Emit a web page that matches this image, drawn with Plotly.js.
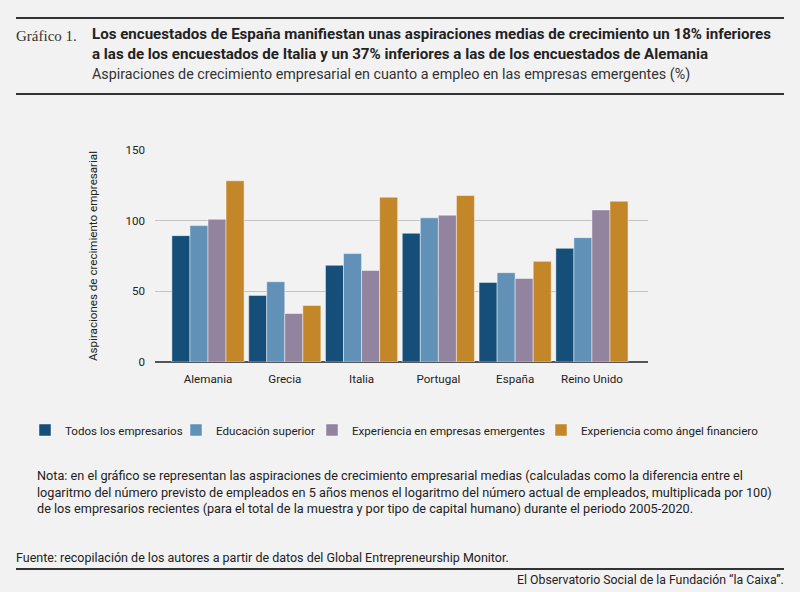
<!DOCTYPE html>
<html>
<head>
<meta charset="utf-8">
<script src="https://cdn.plot.ly/plotly-3.0.1.min.js"></script>
<style>
  body { margin: 0; background: #f2f2f2; }
  #chart { width: 800px; height: 592px; }
</style>
</head>
<body>
<div id="chart"></div>
<script>
var paises = ['Alemania', 'Grecia', 'Italia', 'Portugal', 'España', 'Reino Unido'];
var todos = [89.4, 47.1, 68.4, 91.1, 56.3, 80.4];
var educacion = [96.5, 56.8, 76.7, 102, 63.2, 88];
var experiencia = [101, 34.3, 64.8, 103.9, 59.1, 107.6];
var angel = [128.2, 40, 116.6, 117.8, 71.2, 113.8];
var yTicks = [0, 50, 100, 150];

var W = 800, H = 592;
// paper coordinates from page pixels (margins are zero)
function px(x) { return x / W; }
function py(y) { return 1 - y / H; }

var fnt = 'Roboto, "Liberation Sans", sans-serif';
var edge = {color: 'rgba(255,255,255,0.45)', width: 1};

function serie(nombre, valores, color, ancho) {
  return {
    x: paises,
    y: valores,
    name: nombre,
    type: 'bar',
    legendwidth: ancho,
    marker: {color: color, line: edge},
    hoverinfo: 'y'
  };
}

var data = [
  serie('Todos los empresarios', todos, '#154e78', 106),
  serie('Educación superior', educacion, '#6191b6', 91),
  serie('Experiencia en empresas emergentes', experiencia, '#92839f', 184),
  serie('Experiencia como ángel financiero', angel, '#c38629', 180)
];

var nota = 'Nota: en el gráfico se representan las aspiraciones de crecimiento empresarial medias (calculadas como la diferencia entre el<br>' +
  'logaritmo del número previsto de empleados en 5 años menos el logaritmo del número actual de empleados, multiplicada por 100)<br>' +
  'de los empresarios recientes (para el total de la muestra y por tipo de capital humano) durante el periodo 2005-2020.';

function regla(y) {
  return {type: 'line', xref: 'paper', yref: 'paper', x0: px(16), x1: px(784), y0: py(y), y1: py(y),
          line: {color: '#333', width: 2}};
}

var layout = {
  width: W,
  height: H,
  paper_bgcolor: '#f2f2f2',
  plot_bgcolor: '#f2f2f2',
  font: {family: fnt, size: 12, color: '#222'},
  barmode: 'group',
  bargap: 0.06,
  bargroupgap: 0,
  margin: {l: 0, r: 0, t: 0, b: 0, pad: 0},
  showlegend: true,
  legend: {
    orientation: 'h',
    x: px(25), xanchor: 'left',
    y: py(430), yanchor: 'middle',
    font: {family: fnt, size: 11.6, color: '#222'},
    itemwidth: 30,
    bgcolor: 'rgba(0,0,0,0)'
  },
  xaxis: {
    type: 'category',
    domain: [px(155), px(648)],
    range: [-0.69, 5.73],
    showgrid: false,
    showline: false,
    ticks: '',
    ticklabelstandoff: 8,
    tickfont: {family: fnt, size: 11.6, color: '#222'},
    fixedrange: true
  },
  yaxis: {
    domain: [py(362), py(150)],
    range: [0, 150],
    tickvals: yTicks,
    ticktext: yTicks.map(String),
    showgrid: true,
    gridcolor: '#c4c4c4',
    gridwidth: 1.5,
    zeroline: true,
    zerolinecolor: '#555',
    zerolinewidth: 1.5,
    ticks: '',
    ticklabelstandoff: 9,
    tickfont: {family: fnt, size: 11.6, color: '#222'},
    title: {text: 'Aspiraciones de crecimiento empresarial', font: {family: fnt, size: 11.6, color: '#222'}, standoff: 25},
    fixedrange: true
  },
  shapes: [regla(18), regla(94), regla(569)],
  annotations: [
    {xref: 'paper', yref: 'paper', x: px(14), y: py(36), xanchor: 'left', yanchor: 'middle', showarrow: false,
     text: 'Gráfico 1.', font: {family: '"Liberation Serif", serif', size: 15, color: '#333'}},
    {xref: 'paper', yref: 'paper', x: px(90), y: py(44), xanchor: 'left', yanchor: 'middle', showarrow: false, align: 'left',
     text: '<b>Los encuestados de España manifiestan unas aspiraciones medias de crecimiento un 18% inferiores<br>a las de los encuestados de Italia y un 37% inferiores a las de los encuestados de Alemania</b>',
     font: {family: fnt, size: 15.1, color: '#222'}},
    {xref: 'paper', yref: 'paper', x: px(90), y: py(74), xanchor: 'left', yanchor: 'middle', showarrow: false,
     text: 'Aspiraciones de crecimiento empresarial en cuanto a empleo en las empresas emergentes (%)',
     font: {family: fnt, size: 14.3, color: '#333'}},
    {xref: 'paper', yref: 'paper', x: px(35), y: py(492), xanchor: 'left', yanchor: 'middle', showarrow: false, align: 'left',
     text: nota, font: {family: fnt, size: 12.7, color: '#222'}},
    {xref: 'paper', yref: 'paper', x: px(14), y: py(557), xanchor: 'left', yanchor: 'middle', showarrow: false,
     text: 'Fuente: recopilación de los autores a partir de datos del Global Entrepreneurship Monitor.',
     font: {family: fnt, size: 12.5, color: '#222'}},
    {xref: 'paper', yref: 'paper', x: px(786), y: py(580), xanchor: 'right', yanchor: 'middle', showarrow: false,
     text: 'El Observatorio Social de la Fundación “la Caixa”.',
     font: {family: fnt, size: 12.3, color: '#222'}}
  ]
};

Plotly.newPlot('chart', data, layout, {displayModeBar: false, staticPlot: true});
</script>
</body>
</html>
